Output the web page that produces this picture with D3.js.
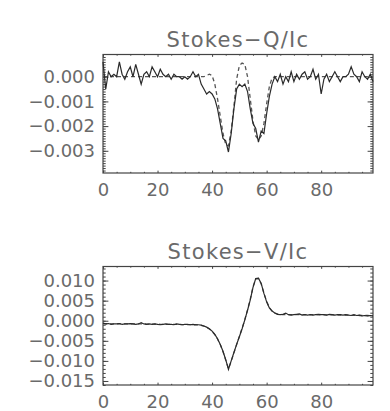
<!DOCTYPE html>
<html>
<head>
<meta charset="utf-8">
<script src="https://cdn.jsdelivr.net/npm/d3@7"></script>
<style>
  body { margin: 0; background: #fff; }
  svg text { font-family: "DejaVu Sans", sans-serif; fill: #6a6a6a; }
</style>
</head>
<body>
<div id="canvas"></div>
<script>
// wavelength pixel index 0..99
var xIdx = d3.range(0, 100);

// Stokes Q/Ic, in units of 1e-3 (observed, then fit)
var qObs = [0.6,-0.5,0.2,0.0,0.1,0.0,0.6,0.1,-0.1,0.2,
            0.4,0.0,0.5,0.1,-0.3,0.1,0.2,0.0,0.4,0.2,
            0.0,0.3,0.1,0.0,0.1,-0.1,0.1,0.0,0.0,-0.1,
            0.0,-0.1,0.0,0.2,0.0,0.1,-0.3,-0.5,-0.7,-0.6,
            -0.7,-0.9,-1.3,-1.9,-2.5,-2.6,-3.05,-2.3,-1.3,-0.5,
            -0.3,-0.4,-0.3,-0.6,-1.3,-1.9,-2.1,-2.65,-2.2,-2.3,
            -1.5,-0.8,-0.3,0.0,-0.2,0.1,-0.3,0.0,-0.2,0.2,
            -0.2,0.1,-0.1,0.1,0.2,-0.1,0.0,0.3,-0.1,0.1,
            -0.7,-0.1,0.1,-0.2,0.0,0.2,0.0,-0.2,0.0,0.0,
            0.1,0.4,0.1,0.0,-0.2,0.2,0.0,-0.1,0.1,-0.2];
var qFit = [0,0,0,0,0,0,0,0,0,0,
            0,0,0,0,0,0,0,0,0,0,
            0,0,0,0,0,0,0,0,0,0,
            0,0,0,0,0,0,0,0.0,0.05,0.1,
            0.05,-0.3,-0.9,-1.6,-2.3,-2.75,-2.8,-2.2,-1.2,-0.1,
            0.45,0.55,0.5,0.0,-0.9,-1.8,-2.4,-2.55,-2.4,-1.9,
            -1.1,-0.4,-0.05,0,0,0,0,0,0,0,
            0,0,0,0,0,0,0,0,0,0,
            0,0,0,0,0,0,0,0,0,0,
            0,0,0,0,0,0,0,0,0,0];

// Stokes V/Ic, in units of 1e-3 (observed, then fit)
var vObs = [-0.6,-0.8,-0.7,-0.9,-0.8,-0.8,-0.7,-0.9,-0.8,-0.8,
            -0.7,-0.8,-0.9,-0.8,-0.5,-0.8,-0.9,-0.8,-0.9,-0.8,
            -0.9,-1.0,-0.9,-0.8,-0.9,-0.9,-1.0,-0.8,-0.9,-1.0,
            -0.9,-0.9,-1.0,-0.9,-1.0,-1.0,-1.1,-1.3,-1.6,-2.0,
            -2.6,-3.4,-4.5,-5.9,-7.6,-9.7,-12.1,-10.0,-7.9,-5.9,
            -4.0,-2.0,0.2,2.6,5.2,8.3,10.5,10.6,9.3,6.8,
            4.7,3.2,2.4,1.9,1.6,1.5,1.6,1.9,1.5,1.4,
            1.5,1.6,1.7,1.4,1.5,1.4,1.5,1.4,1.5,1.6,
            1.5,1.5,1.4,1.6,1.5,1.4,1.5,1.5,1.4,1.5,
            1.4,1.3,1.5,1.3,1.4,1.2,1.3,1.2,1.3,1.2];
var vFit = [-0.7,-0.75,-0.75,-0.8,-0.8,-0.8,-0.8,-0.8,-0.8,-0.8,
            -0.8,-0.8,-0.8,-0.8,-0.8,-0.8,-0.85,-0.85,-0.85,-0.85,
            -0.85,-0.9,-0.9,-0.9,-0.9,-0.9,-0.9,-0.9,-0.9,-0.95,
            -0.95,-0.95,-0.95,-1.0,-1.0,-1.05,-1.15,-1.35,-1.65,-2.05,
            -2.65,-3.45,-4.55,-5.95,-7.7,-9.8,-11.9,-10.1,-8.0,-5.9,
            -3.9,-1.9,0.3,2.7,5.4,8.4,10.4,10.5,9.2,6.9,
            4.8,3.3,2.4,1.9,1.7,1.6,1.5,1.5,1.5,1.5,
            1.5,1.5,1.5,1.5,1.5,1.5,1.5,1.5,1.5,1.5,
            1.45,1.45,1.45,1.45,1.45,1.45,1.4,1.4,1.4,1.4,
            1.4,1.35,1.35,1.35,1.3,1.3,1.3,1.3,1.25,1.25];

var xTicks = [0, 20, 40, 60, 80];
var qTicks = [0, -0.001, -0.002, -0.003];
var vTicks = [0.010, 0.005, 0.000, -0.005, -0.010, -0.015];

var W = 390, H = 411;
var svg = d3.select("#canvas").append("svg")
    .attr("width", W).attr("height", H);

function drawPanel(opt) {
  var left = 103, right = 373;
  var x = d3.scaleLinear().domain([0, 99]).range([left, right]);
  var y = d3.scaleLinear().domain(opt.ydom).range([opt.bottom, opt.top]);
  var g = svg.append("g");
  var ph = opt.bottom - opt.top, pw = right - left;
  var xMaj = 0.02 * ph, yMaj = 0.02 * pw;
  var xMinor = d3.range(0, 100, 5).filter(function(d){ return d % 20 !== 0; });
  var yMinor = d3.range(opt.ydom[0], opt.ydom[1] + 1e-9, opt.minorStep)
      .map(function(d){ return Math.round(d / opt.minorStep) * opt.minorStep; })
      .filter(function(d){ return d >= opt.ydom[0] && d <= opt.ydom[1]; });

  function ax(gen, tx, ty, ticks, size, labels, pad) {
    var a = gen.tickValues(ticks).tickSize(-size).tickSizeOuter(0)
      .tickPadding(pad || 0);
    if (!labels) a.tickFormat("");
    var s = g.append("g").attr("transform", "translate(" + tx + "," + ty + ")").call(a);
    s.select(".domain").remove();
    s.selectAll("line").attr("stroke", "#444").attr("stroke-width", 1);
    s.selectAll("text").attr("fill", "#6a6a6a").style("font-size", "18px");
    return s;
  }

  // bottom axis (labels) + top axis
  ax(d3.axisBottom(x), 0, opt.bottom, xTicks, xMaj, true, 10.5);
  ax(d3.axisBottom(x), 0, opt.bottom, xMinor, xMaj / 2, false);
  ax(d3.axisTop(x), 0, opt.top, xTicks, xMaj, false);
  ax(d3.axisTop(x), 0, opt.top, xMinor, xMaj / 2, false);
  // left axis (labels) + right axis
  ax(d3.axisLeft(y).tickFormat(d3.format(".3f")), left, 0, opt.yticks, yMaj, true, 8);
  ax(d3.axisLeft(y), left, 0, yMinor, yMaj / 2, false);
  ax(d3.axisRight(y), right, 0, opt.yticks, yMaj, false);
  ax(d3.axisRight(y), right, 0, yMinor, yMaj / 2, false);

  g.append("rect")
    .attr("x", left).attr("y", opt.top)
    .attr("width", pw).attr("height", ph)
    .attr("fill", "none").attr("stroke", "#444").attr("stroke-width", 1.2);

  var line = d3.line()
    .x(function(d, i){ return x(xIdx[i]); })
    .y(function(d){ return y(d * 1e-3); });

  g.append("path").datum(opt.fit)
    .attr("d", line).attr("fill", "none")
    .attr("stroke", "#555").attr("stroke-width", 1.3)
    .attr("stroke-dasharray", "4,3");
  g.append("path").datum(opt.obs)
    .attr("d", line).attr("fill", "none")
    .attr("stroke", "#2a2a2a").attr("stroke-width", 1.2);

  g.append("text")
    .attr("x", (left + right) / 2).attr("y", opt.top - 8)
    .attr("text-anchor", "middle")
    .style("font-size", "21px").style("letter-spacing", "1.3px")
    .text(opt.title);
}

drawPanel({ top: 54.5, bottom: 173, ydom: [-0.0039, 0.0009], yticks: qTicks,
            minorStep: 0.0001, obs: qObs, fit: qFit, title: "Stokes\u2212Q/Ic" });
drawPanel({ top: 266.5, bottom: 385, ydom: [-0.016, 0.0135], yticks: vTicks,
            minorStep: 0.001, obs: vObs, fit: vFit, title: "Stokes\u2212V/Ic" });
</script>
</body>
</html>
